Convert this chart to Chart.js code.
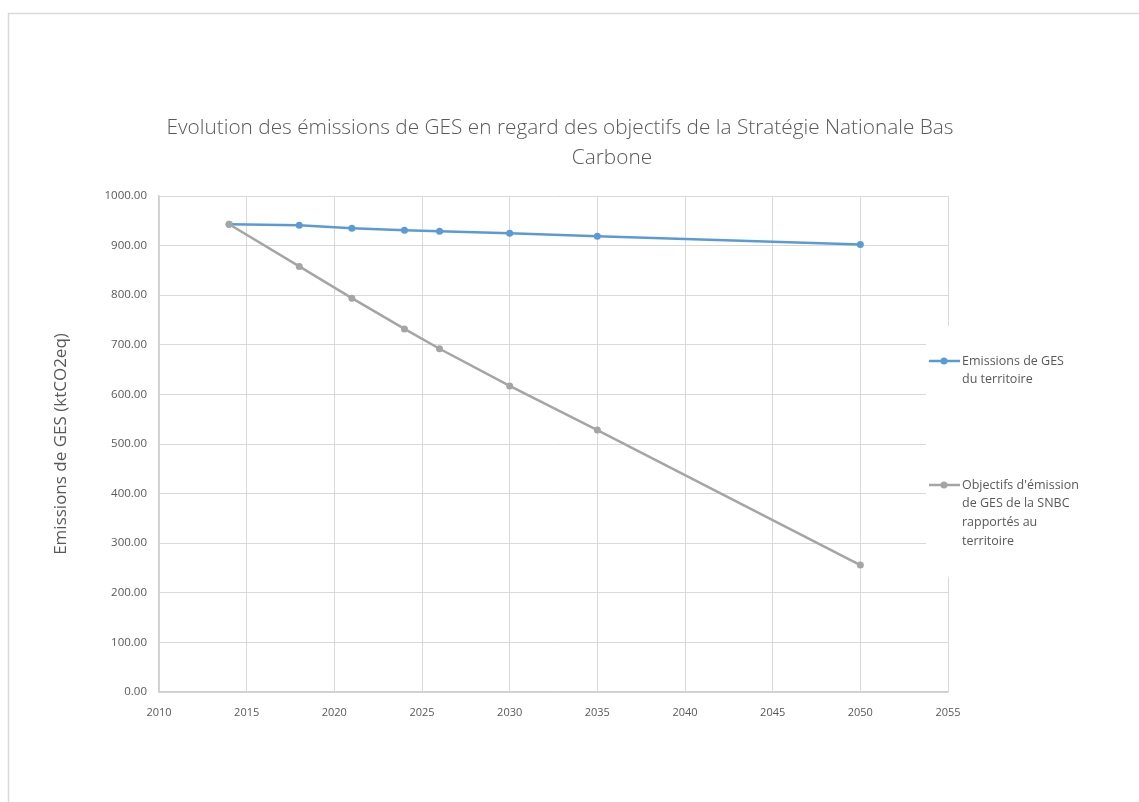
<!DOCTYPE html>
<html>
<head>
<meta charset="utf-8">
<script src="https://cdn.jsdelivr.net/npm/chart.js@4/dist/chart.umd.min.js"></script>
<style>
  html, body { margin: 0; padding: 0; background: #fff; }
  #wrap { width: 1139px; height: 802px; }
</style>
</head>
<body>
<div id="wrap"><canvas id="graphGES" width="1139" height="802"></canvas></div>
<script>
// donnees
const annees = [2014, 2018, 2021, 2024, 2026, 2030, 2035, 2050];
const emissionsTerritoire = [943, 941, 935, 931, 929, 925, 919, 902];
const objectifsSNBC = [943, 858, 794, 732, 692, 617, 528, 256];
const nomsSeries = [
    ["Emissions de GES", "du territoire"],
    ["Objectifs d'émission", "de GES de la SNBC", "rapportés au", "territoire"]
];
const titreLignes = ["Evolution des émissions de GES en regard des objectifs de la Stratégie Nationale Bas", "Carbone"];
const titreAxeY = "Emissions de GES (ktCO2eq)";
const xMin = 2010, xMax = 2055, xPas = 5;
const yMin = 0, yMax = 1000, yPas = 100;

const police = "'Open Sans', 'Noto Sans', sans-serif";
const gris = "#595959";

function points(ys) {
    return annees.map((a, i) => ({ x: a, y: ys[i] }));
}

// cadre, titre et legende a droite
const decor = {
    id: "decor",
    beforeDraw(chart) {
        const c = chart.ctx;
        c.save();
        c.strokeStyle = "#d9d9d9";
        c.lineWidth = 1.5;
        c.beginPath();
        c.moveTo(8.5, 802);
        c.lineTo(8.5, 13.5);
        c.lineTo(1139, 13.5);
        c.stroke();

        c.fillStyle = gris;
        c.font = "300 20.8px " + police;
        c.textAlign = "center";
        c.textBaseline = "middle";
        c.fillText(titreLignes[0], 560, 128);
        c.fillText(titreLignes[1], 612, 158);
        c.restore();
    },
    afterDraw(chart) {
        const c = chart.ctx;
        c.save();
        c.fillStyle = "#fff";
        c.fillRect(926, 326, 213, 251);
        const ys = [361, 485];
        chart.data.datasets.forEach((ds, i) => {
            const y = ys[i];
            c.strokeStyle = ds.borderColor;
            c.lineWidth = 2.5;
            c.beginPath();
            c.moveTo(929, y);
            c.lineTo(960, y);
            c.stroke();
            c.fillStyle = ds.borderColor;
            c.beginPath();
            c.arc(944, y, 3.5, 0, Math.PI * 2);
            c.fill();
            c.fillStyle = gris;
            c.font = "12.5px " + police;
            c.textAlign = "left";
            c.textBaseline = "middle";
            nomsSeries[i].forEach((t, k) => c.fillText(t, 962, y + k * 18.7));
        });
        c.restore();
    }
};

new Chart(document.getElementById("graphGES").getContext("2d"), {
    type: "scatter",
    data: {
        datasets: [{
            label: nomsSeries[0].join(" "),
            data: points(emissionsTerritoire),
            showLine: true,
            borderColor: "#5b9bd5",
            backgroundColor: "#5b9bd5",
            borderWidth: 2.5,
            pointRadius: 3.5,
            pointBorderWidth: 0,
            tension: 0,
            order: 1
        }, {
            label: nomsSeries[1].join(" "),
            data: points(objectifsSNBC),
            showLine: true,
            borderColor: "#a5a5a5",
            backgroundColor: "#a5a5a5",
            borderWidth: 2.5,
            pointRadius: 3.5,
            pointBorderWidth: 0,
            tension: 0,
            order: 0
        }]
    },
    options: {
        responsive: false,
        animation: false,
        layout: { padding: { left: 45, top: 196, right: 191, bottom: 80 } },
        plugins: { legend: { display: false }, tooltip: { enabled: false } },
        scales: {
            x: {
                type: "linear",
                min: xMin,
                max: xMax,
                afterFit: s => { s.height = 30; },
                ticks: { stepSize: xPas, color: gris, padding: 14, font: { family: police, size: 11 }, callback: v => String(v) },
                grid: { color: "#d9d9d9", drawTicks: false },
                border: { color: "#d0d0d0", width: 1.5 }
            },
            y: {
                min: yMin,
                max: yMax,
                afterFit: s => { s.width = 114; },
                ticks: { stepSize: yPas, color: gris, padding: 12, font: { family: police, size: 11.5 }, callback: v => v.toFixed(2) },
                grid: { color: "#d9d9d9", drawTicks: false },
                border: { color: "#d0d0d0", width: 1.5 },
                title: { display: true, text: titreAxeY, color: gris, font: { family: police, size: 17 }, padding: { top: 6, bottom: 0 } }
            }
        }
    },
    plugins: [decor]
});
</script>
</body>
</html>
